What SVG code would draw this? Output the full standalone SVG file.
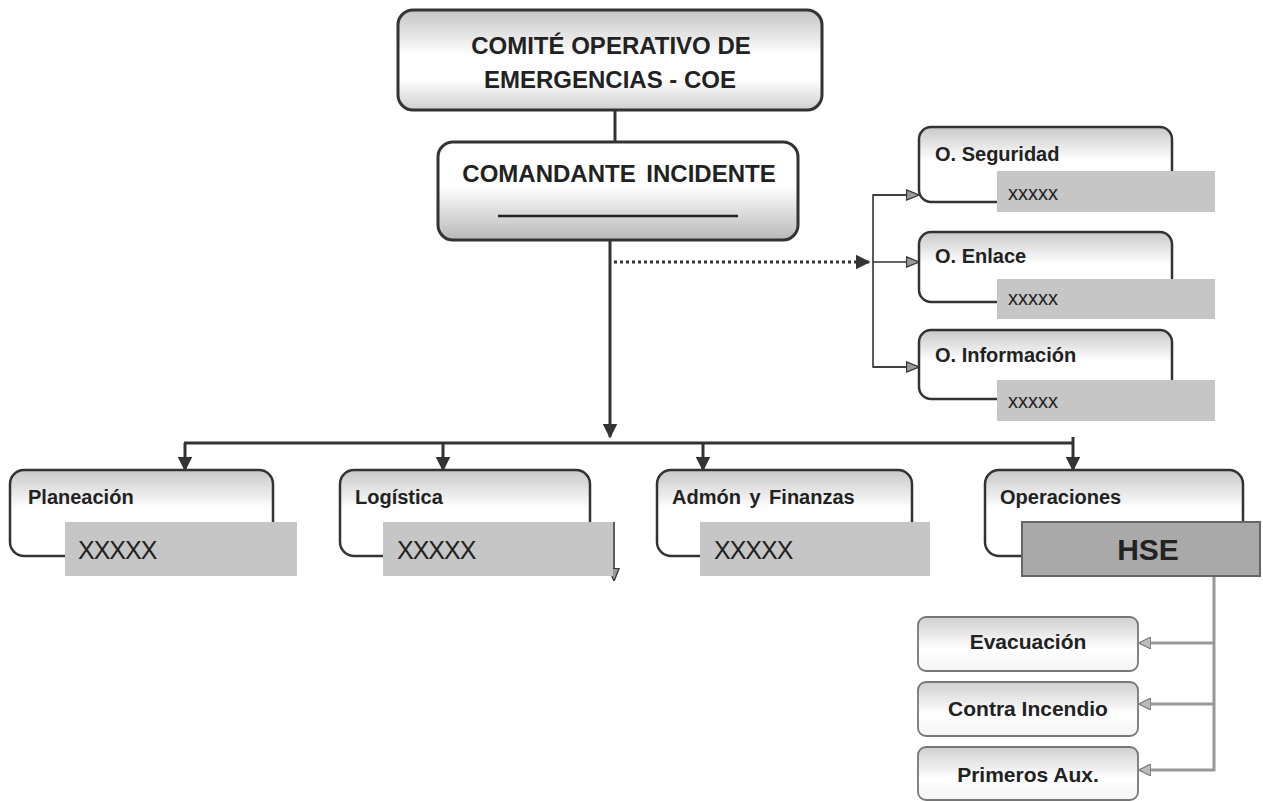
<svg xmlns="http://www.w3.org/2000/svg" width="1263" height="802" viewBox="0 0 1263 802">
<defs>
<linearGradient id="gCoe" x1="0" y1="0" x2="0" y2="1">
<stop offset="0" stop-color="#c4c4c4"/><stop offset="0.45" stop-color="#ffffff"/><stop offset="0.7" stop-color="#ffffff"/><stop offset="1" stop-color="#cfcfcf"/>
</linearGradient>
<linearGradient id="gCi" x1="0" y1="0" x2="0" y2="1">
<stop offset="0" stop-color="#ffffff"/><stop offset="0.45" stop-color="#ffffff"/><stop offset="1" stop-color="#b8b8b8"/>
</linearGradient>
<linearGradient id="gBox" x1="0" y1="0" x2="0" y2="1">
<stop offset="0" stop-color="#c8c8c8"/><stop offset="0.45" stop-color="#ffffff"/><stop offset="1" stop-color="#ffffff"/>
</linearGradient>
<linearGradient id="gSub" x1="0" y1="0" x2="0" y2="1">
<stop offset="0" stop-color="#d0d0d0"/><stop offset="0.6" stop-color="#ffffff"/><stop offset="1" stop-color="#f4f4f4"/>
</linearGradient>
<marker id="aDark" viewBox="0 0 10 10" refX="9" refY="5" markerWidth="5" markerHeight="5" orient="auto" markerUnits="strokeWidth">
<path d="M0,0 L10,5 L0,10 z" fill="#333"/>
</marker>
<marker id="aThin" viewBox="0 0 10 10" refX="9" refY="5" markerWidth="8" markerHeight="8" orient="auto" markerUnits="strokeWidth">
<path d="M0,1 L10,5 L0,9 z" fill="#999" stroke="#333" stroke-width="1"/>
</marker>
<marker id="aGray" viewBox="0 0 10 10" refX="9" refY="5" markerWidth="4" markerHeight="4" orient="auto" markerUnits="strokeWidth">
<path d="M0,0 L10,5 L0,10 z" fill="#bbb" stroke="#777" stroke-width="1"/>
</marker>
</defs>
<style>
.box{stroke:#333;stroke-width:2.5;fill:url(#gBox)}
.sub{stroke:#777;stroke-width:1.8;fill:url(#gSub)}
.tag{fill:#c6c6c6}
.hse{fill:#a9a9a9;stroke:#666;stroke-width:2}
.t{font-family:"Liberation Sans",Arial,sans-serif;font-weight:bold;fill:#222}
.x{font-family:"Liberation Sans",Arial,sans-serif;fill:#222}
.c{fill:none;stroke:#333;stroke-width:3}
.ct{fill:none;stroke:#333;stroke-width:1.6}
.cg{fill:none;stroke:#999;stroke-width:3}
</style>

<g id="connectors">
<line class="c" x1="615" y1="110" x2="615" y2="142"/>
<line class="c" x1="610" y1="240" x2="610" y2="437" marker-end="url(#aDark)"/>
<line class="c" x1="184" y1="443" x2="1074" y2="443"/>
<line class="c" x1="185" y1="443" x2="185" y2="470" marker-end="url(#aDark)"/>
<line class="c" x1="443" y1="443" x2="443" y2="470" marker-end="url(#aDark)"/>
<line class="c" x1="703" y1="443" x2="703" y2="470" marker-end="url(#aDark)"/>
<line class="c" x1="1073" y1="437" x2="1073" y2="470" marker-end="url(#aDark)"/>
<line class="c" x1="614" y1="262" x2="869" y2="262" stroke-dasharray="3 3" marker-end="url(#aDark)"/>
<polyline class="ct" points="918,195 873,195 873,367 918,367" />
<line class="ct" x1="873" y1="195" x2="918" y2="195" marker-end="url(#aThin)"/>
<line class="ct" x1="873" y1="262" x2="918" y2="262" marker-end="url(#aThin)"/>
<line class="ct" x1="873" y1="367" x2="918" y2="367" marker-end="url(#aThin)"/>
<line class="ct" x1="614" y1="522" x2="614" y2="580" marker-end="url(#aThin)"/>
<polyline class="cg" points="1214,576 1214,770 1140,770" marker-end="url(#aGray)"/>
<line class="cg" x1="1214" y1="643" x2="1140" y2="643" marker-end="url(#aGray)"/>
<line class="cg" x1="1214" y1="704" x2="1140" y2="704" marker-end="url(#aGray)"/>
</g>

<g id="coe">
<rect x="398" y="10" width="424" height="100" rx="15" stroke="#333" stroke-width="3" fill="url(#gCoe)"/>
<text class="t" x="611" y="54" font-size="24" text-anchor="middle">COMITÉ OPERATIVO  DE</text>
<text class="t" x="610" y="88" font-size="24" text-anchor="middle">EMERGENCIAS - COE</text>
</g>

<g id="comandante">
<rect x="438" y="142" width="360" height="98" rx="15" stroke="#333" stroke-width="3" fill="url(#gCi)"/>
<text class="t" x="619" y="182" font-size="24" text-anchor="middle" word-spacing="4">COMANDANTE INCIDENTE</text>
<line x1="498" y1="216" x2="738" y2="216" stroke="#222" stroke-width="2.5"/>
</g>

<g id="seguridad">
<rect class="box" x="919" y="127" width="253" height="75" rx="12"/>
<rect class="tag" x="997" y="171" width="218" height="41"/>
<text class="t" x="935" y="161" font-size="20">O. Seguridad</text>
<text class="x" x="1008" y="200" font-size="20">xxxxx</text>
</g>

<g id="enlace">
<rect class="box" x="919" y="232" width="253" height="70" rx="12"/>
<rect class="tag" x="997" y="279" width="218" height="40"/>
<text class="t" x="935" y="263" font-size="20">O. Enlace</text>
<text class="x" x="1008" y="305" font-size="20">xxxxx</text>
</g>

<g id="informacion">
<rect class="box" x="919" y="330" width="253" height="69" rx="12"/>
<rect class="tag" x="997" y="380" width="218" height="41"/>
<text class="t" x="935" y="362" font-size="20">O. Información</text>
<text class="x" x="1008" y="408" font-size="20">xxxxx</text>
</g>

<g id="planeacion">
<rect class="box" x="10" y="470" width="263" height="86" rx="14"/>
<rect class="tag" x="65" y="522" width="232" height="54"/>
<text class="t" x="28" y="504" font-size="20">Planeación</text>
<text class="x" x="78" y="559" font-size="25" letter-spacing="-1">XXXXX</text>
</g>

<g id="logistica">
<rect class="box" x="340" y="470" width="250" height="86" rx="14"/>
<rect class="tag" x="383" y="522" width="230" height="54"/>
<text class="t" x="355" y="504" font-size="20">Logística</text>
<text class="x" x="397" y="559" font-size="25" letter-spacing="-1">XXXXX</text>
</g>

<g id="admon">
<rect class="box" x="657" y="470" width="255" height="86" rx="14"/>
<rect class="tag" x="700" y="522" width="230" height="54"/>
<text class="t" x="672" y="504" font-size="20" word-spacing="3">Admón y Finanzas</text>
<text class="x" x="714" y="559" font-size="25" letter-spacing="-1">XXXXX</text>
</g>

<g id="operaciones">
<rect class="box" x="985" y="470" width="258" height="86" rx="14"/>
<rect class="hse" x="1022" y="522" width="238" height="54"/>
<text class="t" x="1000" y="504" font-size="20">Operaciones</text>
<text class="t" x="1148" y="560" font-size="30" text-anchor="middle">HSE</text>
</g>

<g id="evacuacion">
<rect class="sub" x="918" y="617" width="220" height="54" rx="8"/>
<text class="t" x="1028" y="649" font-size="21" text-anchor="middle">Evacuación</text>
</g>

<g id="incendio">
<rect class="sub" x="918" y="682" width="220" height="54" rx="8"/>
<text class="t" x="1028" y="716" font-size="21" text-anchor="middle">Contra Incendio</text>
</g>

<g id="primeros">
<rect class="sub" x="918" y="747" width="220" height="53" rx="8"/>
<text class="t" x="1028" y="782" font-size="21" text-anchor="middle">Primeros Aux.</text>
</g>
</svg>
